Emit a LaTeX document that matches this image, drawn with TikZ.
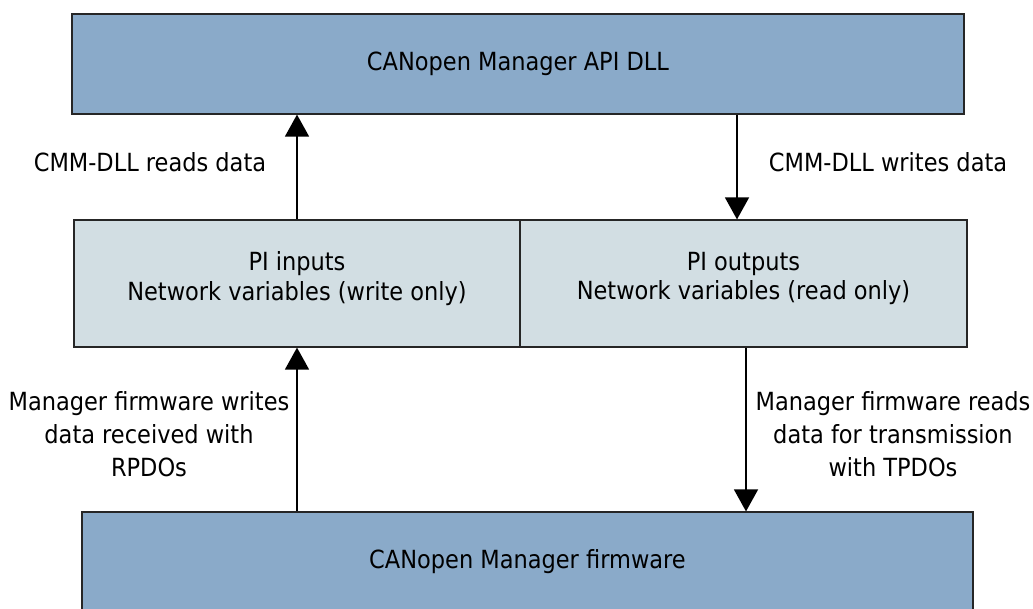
\documentclass[tikz,border=0pt]{standalone}
\usepackage{fontspec}
\setmainfont{DejaVu Sans Condensed}
\usetikzlibrary{arrows.meta}
\definecolor{layerblue}{HTML}{8AAAC9}
\definecolor{pigray}{HTML}{D2DEE3}
\tikzset{
  box/.style={draw=black!85, line width=1.2pt, inner sep=0pt},
  layer/.style={box, fill=layerblue, minimum width=892pt, minimum height=100pt,
    font=\fontsize{25}{30}\selectfont},
  pibox/.style={box, fill=pigray, minimum height=127pt},
  pitext/.style={align=center, inner sep=0pt, font=\fontsize{25}{29.5}\selectfont},
  lbl/.style={align=center, inner sep=0pt, font=\fontsize{25}{33}\selectfont},
  arr/.style={line width=1.5pt, -{Triangle[width=24pt,length=22pt]}}
}
\begin{document}
\begin{tikzpicture}[x=1pt,y=-1pt]
  \useasboundingbox (0,0) rectangle (1033,608);

  % software layers
  \node[layer] (api) at (518,64) {CANopen Manager API DLL};
  \node[pibox, minimum width=446pt] (pin) at (297,283.5) {};
  \node[pibox, minimum width=447pt] (pout) at (743.5,283.5) {};
  \node[pitext] (pintxt) at ([yshift=5pt]pin.center)
    {PI inputs\\Network variables (write only)};
  \node[pitext] (pouttxt) at ([yshift=5pt]pout.center)
    {PI outputs\\Network variables (read only)};
  \node[layer, minimum width=891pt] (fw) at (527.5,562) {CANopen Manager firmware};

  % data flow columns
  \coordinate (wcol) at (737,0);
  \coordinate (tcol) at (746,0);

  \draw[arr] (pin.north) -- (api.south -| pin.north);
  \draw[arr] (api.south -| wcol) -- (pout.north -| wcol);
  \draw[arr] (fw.north -| pin.south) -- (pin.south);
  \draw[arr] (pout.south -| tcol) -- (fw.north -| tcol);

  % flow labels
  \node[lbl] (rd) at (150,162) {CMM-DLL reads data};
  \node[lbl] (wr) at (888,162) {CMM-DLL writes data};
  \node[lbl] (rp) at (149,434) {Manager firmware writes\\data received with\\RPDOs};
  \node[lbl] (tp) at (893,434) {Manager firmware reads\\data for transmission\\with TPDOs};
\end{tikzpicture}
\end{document}
